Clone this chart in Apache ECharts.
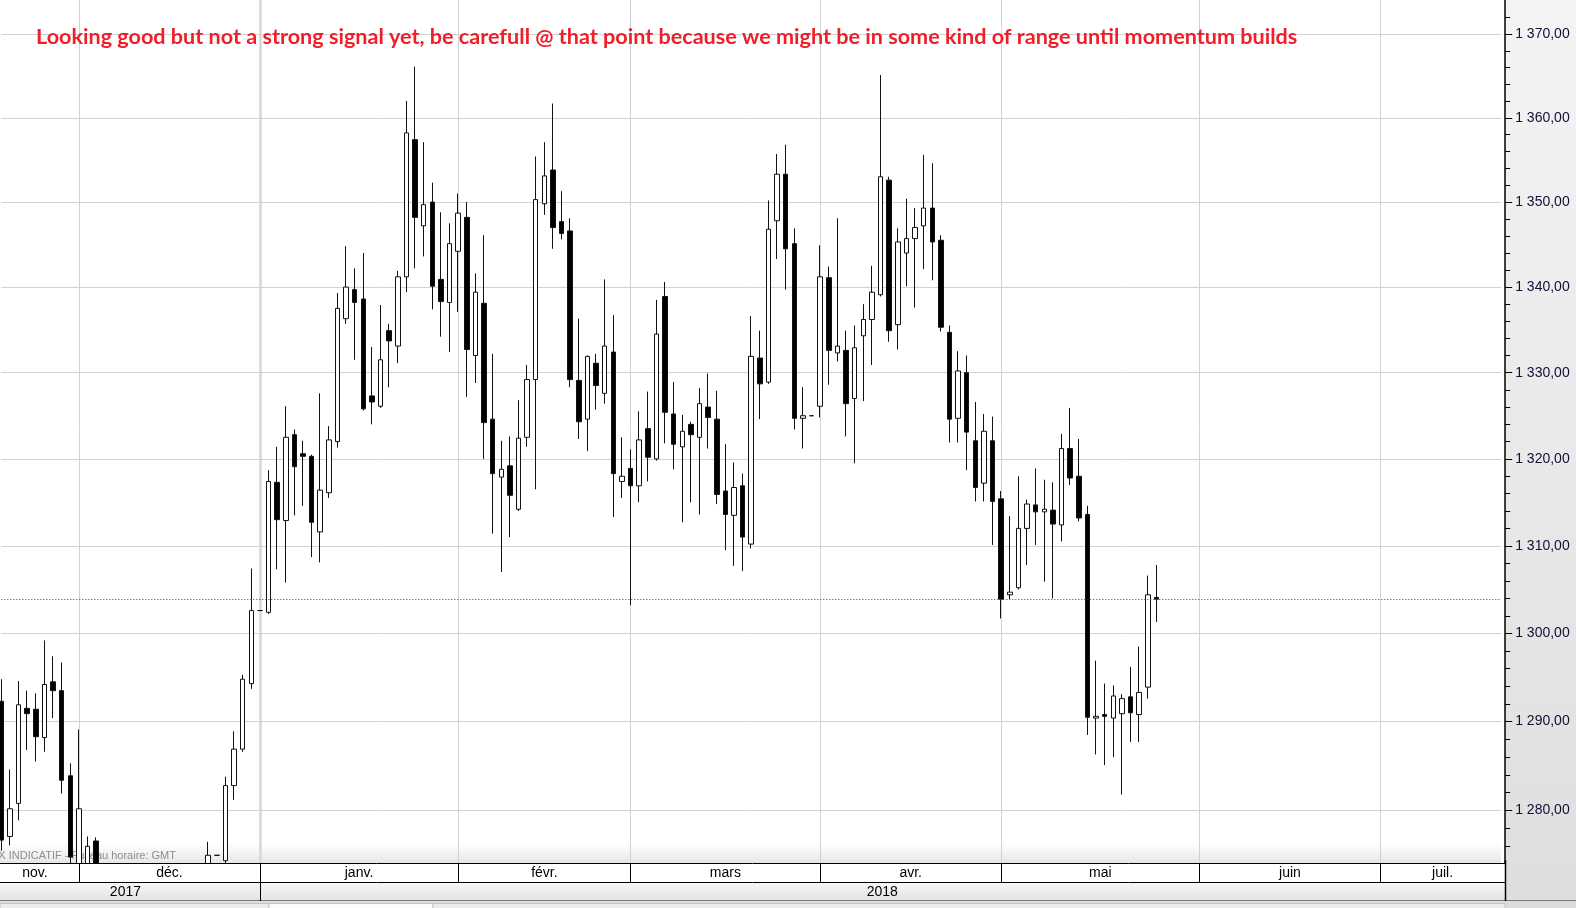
<!DOCTYPE html>
<html><head><meta charset="utf-8">
<script src="https://cdn.jsdelivr.net/npm/echarts@6/dist/echarts.min.js"></script>
<style>html,body{margin:0;padding:0;background:#fff}#c{width:1576px;height:908px}</style>
</head><body><div id="c"></div>
<script>
// ---- data (price) ----
const opens  = [1292.3,1277.1,1280.8,1291.5,1291.4,1288.2,1294.5,1293.5,1283.9,1273.5,1273.0,1276.6,1265.5,1263.0,1251.5,1248.0,1245.0,1242.5,1256.5,1254.5,1256.5,1261.5,1263.5,1265.5,1266.5,1275.0,1274.4,1282.8,1286.9,1294.3,1302.6,1302.4,1317.3,1312.9,1322.8,1320.6,1320.3,1311.6,1316.1,1322.0,1336.3,1339.7,1338.6,1327.3,1326.1,1334.9,1333.1,1341.2,1357.4,1347.2,1350.0,1340.9,1338.2,1344.2,1348.2,1332.0,1338.1,1324.6,1317.9,1319.2,1314.2,1322.5,1329.2,1349.8,1353.8,1347.7,1346.6,1329.1,1324.6,1331.1,1327.6,1332.4,1317.4,1318.9,1316.9,1323.5,1320.0,1338.9,1325.2,1321.4,1324.0,1322.5,1326.0,1324.6,1316.3,1313.5,1316.9,1310.2,1331.7,1328.9,1347.8,1353.3,1345.1,1324.7,1325.0,1326.1,1341.1,1332.3,1332.6,1327.0,1334.3,1336.2,1339.1,1352.6,1335.6,1344.0,1345.7,1347.2,1349.3,1345.5,1334.7,1324.7,1330.0,1322.1,1317.2,1322.1,1315.4,1304.4,1305.2,1312.0,1314.7,1313.9,1314.1,1312.4,1321.2,1318.0,1313.6,1290.4,1290.8,1290.4,1290.9,1292.8,1290.8,1293.9,1304.1];
const highs  = [1294.8,1284.6,1294.6,1293.5,1293.2,1299.2,1297.4,1296.7,1285.3,1289.1,1277.1,1277.0,1267.5,1264.0,1253.5,1251.0,1246.5,1258.0,1260.5,1259.5,1265.0,1265.0,1268.0,1268.5,1276.5,1275.0,1283.8,1288.9,1295.3,1307.4,1302.6,1318.7,1321.4,1326.1,1323.4,1322.1,1320.5,1327.6,1323.8,1339.3,1344.8,1342.2,1344.0,1333.0,1337.9,1335.7,1341.9,1362.0,1366.1,1357.1,1352.3,1348.8,1347.5,1351.0,1350.0,1341.6,1346.1,1332.2,1322.1,1322.6,1326.8,1330.9,1355.4,1357.1,1361.7,1351.3,1348.1,1336.3,1332.0,1332.2,1340.9,1336.7,1322.5,1321.1,1325.5,1327.8,1338.5,1340.6,1328.9,1325.1,1324.3,1328.2,1329.9,1327.9,1321.7,1319.6,1318.3,1336.6,1334.9,1350.2,1355.7,1356.8,1346.9,1328.3,1325.0,1344.9,1342.4,1348.1,1334.9,1335.5,1338.0,1342.5,1365.1,1353.0,1346.9,1350.4,1349.3,1355.6,1354.6,1346.1,1335.5,1332.5,1332.0,1326.6,1325.2,1324.9,1316.3,1313.4,1318.0,1315.3,1318.9,1317.6,1317.3,1322.9,1325.9,1322.3,1314.6,1296.9,1294.3,1294.1,1293.1,1296.2,1298.5,1306.6,1307.8];
const lows   = [1275.5,1276.1,1278.9,1286.8,1285.5,1286.6,1290.4,1281.9,1273.0,1267.0,1270.5,1262.5,1260.5,1248.0,1243.5,1242.5,1236.5,1240.0,1251.0,1252.5,1255.5,1259.5,1262.0,1262.5,1265.5,1275.0,1273.8,1281.2,1286.6,1293.7,1302.6,1302.2,1307.3,1305.8,1313.5,1314.6,1308.7,1308.1,1315.5,1321.3,1335.7,1331.5,1325.6,1324.0,1325.9,1328.3,1331.1,1339.4,1342.2,1343.6,1337.4,1334.2,1332.4,1337.1,1327.2,1328.8,1320.0,1311.4,1307.0,1311.0,1314.0,1321.4,1316.5,1348.5,1344.5,1345.6,1328.3,1322.3,1320.9,1325.7,1326.4,1313.3,1315.5,1303.2,1315.0,1317.4,1319.8,1321.8,1318.8,1312.7,1315.0,1313.6,1321.2,1314.8,1309.5,1307.7,1307.1,1309.7,1324.6,1328.7,1343.3,1339.7,1323.4,1321.2,1325.0,1324.8,1328.6,1331.3,1322.6,1319.5,1326.7,1330.9,1338.9,1333.6,1332.7,1340.1,1337.6,1342.1,1340.8,1334.8,1321.9,1321.9,1318.7,1315.1,1315.1,1310.1,1301.7,1303.9,1305.0,1307.8,1310.1,1305.9,1304.0,1310.5,1317.0,1312.8,1288.5,1286.3,1285.1,1286.0,1281.8,1287.7,1287.7,1292.6,1301.3];
const closes = [1276.7,1280.2,1291.9,1290.9,1288.3,1294.2,1293.5,1283.4,1274.8,1280.2,1276.0,1265.5,1263.0,1251.5,1248.0,1245.0,1242.5,1256.5,1254.5,1256.5,1261.5,1263.5,1265.5,1266.5,1275.0,1275.0,1282.8,1286.9,1294.8,1302.6,1302.6,1317.4,1313.0,1322.5,1319.1,1320.3,1312.7,1316.4,1322.2,1337.5,1340.0,1338.2,1325.8,1326.6,1331.5,1333.7,1341.2,1358.2,1348.2,1349.7,1340.1,1338.3,1345.1,1348.7,1332.7,1339.4,1324.2,1318.3,1318.8,1315.8,1322.4,1329.2,1350.3,1353.1,1347.0,1346.3,1329.2,1324.3,1331.9,1328.5,1333.1,1318.3,1318.0,1316.9,1322.2,1320.2,1334.5,1325.4,1321.7,1323.2,1322.8,1326.4,1324.8,1315.9,1313.6,1316.7,1311.0,1331.9,1328.7,1346.8,1353.3,1344.5,1324.7,1325.0,1325.0,1341.2,1332.6,1333.1,1326.4,1332.9,1336.2,1339.4,1353.0,1334.9,1345.3,1345.7,1347.0,1349.3,1345.3,1335.3,1324.6,1330.2,1323.1,1316.7,1323.2,1315.1,1303.9,1304.7,1312.0,1314.8,1313.9,1314.2,1312.5,1321.2,1317.8,1313.2,1290.5,1290.6,1290.6,1292.9,1292.6,1291.0,1293.3,1304.4,1303.9];

const monthNames = ['nov.','déc.','janv.','févr.','mars','avr.','mai','juin','juil.'];
const yearNames  = ['2017','2018'];
const priceLabels = [1280,1290,1300,1310,1320,1330,1340,1350,1360,1370];
const lastPrice = 1303.9;
const titleText = 'Looking good but not a strong signal yet, be carefull @ that point because we might be in some kind of range until momentum builds';
const footText = 'TAUX INDICATIF - Fuseau horaire: GMT';

// ---- categories: trading (week) days ----
const dates = [];
for (let d = new Date(Date.UTC(2017,10,20)); d <= new Date(Date.UTC(2018,6,20)); d.setUTCDate(d.getUTCDate()+1)) {
  const w = d.getUTCDay();
  if (w === 0 || w === 6) continue;
  dates.push(d.toISOString().slice(0,10));
}
const N = dates.length;
const monthStarts = [], yearStarts = [];
for (let i = 1; i < N; i++) {
  if (dates[i].slice(0,7) !== dates[i-1].slice(0,7)) monthStarts.push(i);
  if (dates[i].slice(0,4) !== dates[i-1].slice(0,4)) yearStarts.push(i);
}
const segStart = -1.2, segEnd = N - 1 + 0.4;
const mBounds = [segStart].concat(monthStarts, [segEnd]);
const monthMids = [];
for (let k = 0; k < mBounds.length - 1; k++) monthMids.push((mBounds[k] + mBounds[k+1]) / 2);
const yBounds = [segStart].concat(yearStarts, [segEnd]);
const yearMids = [];
for (let k = 0; k < yBounds.length - 1; k++) yearMids.push((yBounds[k] + yBounds[k+1]) / 2);
function nameAt(v, mids, names) {
  let best = 0;
  for (let k = 0; k < mids.length; k++) if (Math.abs(mids[k]-v) < Math.abs(mids[best]-v)) best = k;
  return names[best];
}

const L = Math.log;
const candles = opens.map((o, i) => [L(o), L(closes[i]), L(lows[i]), L(highs[i])]);
const yMin = L(1274.14), yMax = L(1374.09);
const minorTicks = [];
for (let p = 1276; p <= 1372; p += 2) if (p % 10 !== 0) minorTicks.push(L(p));
const fmtPrice = v => {
  const p = Math.round(Math.exp(v));
  return String(p).replace(/\B(?=(\d{3})+(?!\d))/g, ' ') + ',00';
};

const G = echarts.graphic;
const chart = echarts.init(document.getElementById('c'), null, {renderer: 'canvas'});
const axisFont = {fontFamily: '"Liberation Sans", Arial, sans-serif', fontSize: 14};
const gridW = (N - 1) * 8.62;
chart.setOption({
  animation: false,
  backgroundColor: '#ffffff',
  grid: {left: 1.3, top: 0, width: gridW, height: 863, containLabel: false, outerBoundsMode: 'none'},
  xAxis: [
    {type: 'category', data: dates, boundaryGap: false, position: 'bottom', z: 1,
     axisLine: {show: false, onZero: false}, axisTick: {show: false}, axisLabel: {show: false},
     splitLine: {show: true, interval: (i) => monthStarts.indexOf(i) >= 0 && yearStarts.indexOf(i) < 0,
                 lineStyle: {color: '#d2d2d2', width: 1}}},
    {type: 'value', min: 0, max: N - 1, position: 'bottom', offset: 0, z: 4,
     axisLine: {show: false, onZero: false}, splitLine: {show: false},
     axisTick: {show: true, customValues: monthStarts, length: 19, inside: false, lineStyle: {color: '#000', width: 1}},
     axisLabel: {show: true, customValues: monthMids, margin: 3, color: '#000', ...axisFont,
                 formatter: v => nameAt(v, monthMids, monthNames)}},
    {type: 'value', min: 0, max: N - 1, position: 'bottom', offset: 19, z: 4,
     axisLine: {show: false, onZero: false}, splitLine: {show: false},
     axisTick: {show: true, customValues: yearStarts, length: 19, inside: false, lineStyle: {color: '#000', width: 1}},
     axisLabel: {show: true, customValues: yearMids, margin: 3, color: '#000', ...axisFont,
                 formatter: v => nameAt(v, yearMids, yearNames)}},
    {type: 'category', data: dates, boundaryGap: false, position: 'bottom', z: 1,
     axisLine: {show: false, onZero: false}, axisTick: {show: false}, axisLabel: {show: false},
     splitLine: {show: true, interval: (i) => yearStarts.indexOf(i) >= 0,
                 lineStyle: {color: '#d6d6d6', width: 2.5}}}
  ],
  yAxis: [
    {type: 'value', position: 'right', offset: 4, min: yMin, max: yMax, z: 1,
     axisLine: {show: true, onZero: false, lineStyle: {color: '#000', width: 1.5}},
     axisTick: {show: true, customValues: priceLabels.map(L), length: 7, lineStyle: {color: '#000', width: 1}},
     axisLabel: {show: true, customValues: priceLabels.map(L), margin: 10, color: '#10103a', ...axisFont, formatter: fmtPrice},
     splitLine: {show: true, lineStyle: {color: '#d2d2d2', width: 1}}},
    {type: 'value', position: 'right', offset: 4, min: yMin, max: yMax, z: 1,
     axisLine: {show: false, onZero: false}, axisLabel: {show: false}, splitLine: {show: false},
     axisTick: {show: true, customValues: minorTicks, length: 5, lineStyle: {color: '#000', width: 1}}}
  ],
  series: [{
    type: 'candlestick', xAxisIndex: 0, yAxisIndex: 0, z: 2,
    data: candles, barWidth: 5,
    itemStyle: {color: '#ffffff', color0: '#000000', borderColor: '#111111', borderColor0: '#111111', borderWidth: 1},
    markLine: {silent: true, symbol: ['none','none'], label: {show: false}, precision: 10,
      lineStyle: {color: '#e00000', type: [1, 2], width: 1},
      emphasis: {disabled: true},
      data: [{yAxis: L(lastPrice)}]}
  }],
  graphic: [
    {type: 'rect', z: 0, silent: true, shape: {x: 1505, y: 0, width: 71, height: 908},
     style: {fill: new G.LinearGradient(0, 0, 0, 1, [{offset: 0, color: '#f4f4f4'}, {offset: 1, color: '#dedede'}])}},
    {type: 'rect', z: 1, silent: true, shape: {x: 0, y: 843, width: 1501, height: 20},
     style: {fill: new G.LinearGradient(0, 0, 0, 1, [{offset: 0, color: 'rgba(235,235,235,0)'}, {offset: 1, color: '#e6e6e6'}])}},
    {type: 'text', z: 1, silent: true,
     style: {text: footText, x: 176, y: 856, align: 'right', verticalAlign: 'middle', fill: '#8e8e8e', font: '11px "Liberation Sans", Arial, sans-serif'}},
    {type: 'rect', z: 3, silent: true, shape: {x: 0, y: 863, width: 1505, height: 19}, style: {fill: '#ffffff'}},
    {type: 'rect', z: 3, silent: true, shape: {x: 0, y: 882, width: 1505, height: 19},
     style: {fill: new G.LinearGradient(0, 0, 0, 1, [{offset: 0, color: '#f7f7f7'}, {offset: 1, color: '#e2e2e2'}])}},
    {type: 'rect', z: 3, silent: true, shape: {x: 0, y: 901, width: 1576, height: 7}, style: {fill: '#dcdcdc'}},
    {type: 'rect', z: 3, silent: true, shape: {x: 0, y: 903.5, width: 269, height: 5}, style: {fill: '#ececec', stroke: '#c4c4c4', lineWidth: 1}},
    {type: 'rect', z: 3, silent: true, shape: {x: 269, y: 903.5, width: 164, height: 5}, style: {fill: '#fbfbfb', stroke: '#c4c4c4', lineWidth: 1}},
    {type: 'rect', z: 3, silent: true, shape: {x: 433, y: 903.5, width: 1072, height: 5}, style: {fill: '#ececec', stroke: '#c4c4c4', lineWidth: 1}},
    {type: 'line', z: 4, silent: true, shape: {x1: 0, y1: 863.5, x2: 1505, y2: 863.5}, style: {stroke: '#000', lineWidth: 1}},
    {type: 'line', z: 4, silent: true, shape: {x1: 0, y1: 882.5, x2: 1505, y2: 882.5}, style: {stroke: '#000', lineWidth: 1}},
    {type: 'line', z: 4, silent: true, shape: {x1: 0, y1: 900.5, x2: 1576, y2: 900.5}, style: {stroke: '#7a7a7a', lineWidth: 1}},
    {type: 'line', z: 4, silent: true, shape: {x1: 1505.5, y1: 860, x2: 1505.5, y2: 901}, style: {stroke: '#000', lineWidth: 1.5}},
    {type: 'text', z: 5, silent: true,
     style: {text: titleText, x: 36, y: 37, align: 'left', verticalAlign: 'middle', fill: '#f01e28', font: 'bold 21.6px Lato, "Open Sans", sans-serif'}}
  ]
});
</script>
</body></html>
